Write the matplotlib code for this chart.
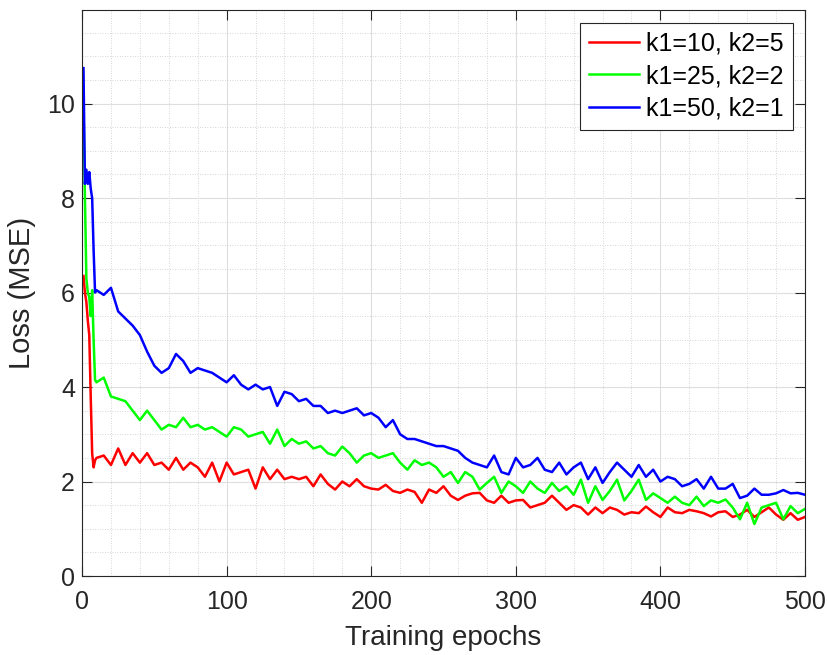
import matplotlib
matplotlib.use("Agg")
import matplotlib.pyplot as plt
from matplotlib.ticker import MultipleLocator

# epochs: first nine individually, then every 5 epochs
epochs = list(range(1, 10)) + list(range(10, 501, 5))

loss_k10 = [6.35, 6.0, 5.8, 5.4, 5.1, 3.8, 2.6, 2.3, 2.45,
            2.5, 2.55, 2.35, 2.7, 2.35, 2.6, 2.4, 2.6, 2.35, 2.4,
            2.25, 2.5, 2.25, 2.4, 2.3, 2.1, 2.4, 2.0, 2.4, 2.15,
            2.2, 2.25, 1.85, 2.3, 2.05, 2.25, 2.05, 2.1, 2.05, 2.1,
            1.9, 2.15, 1.95, 1.83, 2.0, 1.9, 2.05, 1.9, 1.85, 1.83,
            1.93, 1.8, 1.76, 1.83, 1.78, 1.55, 1.83, 1.76, 1.9, 1.7,
            1.61, 1.7, 1.75, 1.76, 1.6, 1.55, 1.7, 1.55, 1.6, 1.61,
            1.45, 1.5, 1.55, 1.7, 1.55, 1.4, 1.5, 1.45, 1.3, 1.45,
            1.33, 1.45, 1.4, 1.3, 1.35, 1.33, 1.47, 1.35, 1.25, 1.45,
            1.35, 1.33, 1.4, 1.37, 1.33, 1.26, 1.35, 1.37, 1.25, 1.3,
            1.4, 1.25, 1.35, 1.45, 1.3, 1.19, 1.33, 1.19, 1.25]

loss_k25 = [10.0, 8.0, 6.3, 6.0, 5.9, 5.5, 6.05, 5.0, 4.15,
            4.1, 4.2, 3.8, 3.75, 3.7, 3.5, 3.3, 3.5, 3.3, 3.1,
            3.2, 3.15, 3.35, 3.15, 3.2, 3.1, 3.15, 3.05, 2.95, 3.15,
            3.1, 2.95, 3.0, 3.05, 2.8, 3.1, 2.75, 2.9, 2.8, 2.85,
            2.7, 2.75, 2.6, 2.55, 2.74, 2.6, 2.4, 2.55, 2.6, 2.5,
            2.55, 2.6, 2.4, 2.25, 2.45, 2.35, 2.4, 2.3, 2.1, 2.2,
            1.97, 2.2, 2.1, 1.83, 1.97, 2.1, 1.76, 2.0, 1.9, 1.76,
            2.0, 1.85, 1.76, 1.97, 1.8, 1.9, 1.72, 2.04, 1.55, 1.9,
            1.61, 1.8, 2.04, 1.6, 1.8, 2.04, 1.61, 1.75, 1.65, 1.55,
            1.68, 1.55, 1.5, 1.68, 1.48, 1.6, 1.55, 1.62, 1.45, 1.2,
            1.55, 1.1, 1.45, 1.5, 1.55, 1.2, 1.48, 1.33, 1.42]

loss_k50 = [10.75, 8.3, 8.6, 8.3, 8.55, 8.2, 8.0, 6.9, 6.0,
            6.05, 5.95, 6.1, 5.6, 5.45, 5.3, 5.1, 4.75, 4.45, 4.3,
            4.4, 4.7, 4.55, 4.3, 4.4, 4.35, 4.3, 4.2, 4.1, 4.25,
            4.05, 3.95, 4.05, 3.95, 4.0, 3.6, 3.9, 3.85, 3.7, 3.75,
            3.6, 3.6, 3.45, 3.5, 3.45, 3.5, 3.55, 3.4, 3.45, 3.35,
            3.15, 3.3, 3.0, 2.9, 2.9, 2.85, 2.8, 2.75, 2.75, 2.7,
            2.65, 2.5, 2.4, 2.35, 2.3, 2.55, 2.2, 2.15, 2.5, 2.3,
            2.35, 2.5, 2.25, 2.2, 2.4, 2.15, 2.3, 2.4, 2.05, 2.3,
            1.97, 2.2, 2.4, 2.25, 2.1, 2.35, 2.1, 2.25, 2.0, 2.1,
            2.05, 1.9, 1.95, 2.05, 1.85, 2.1, 1.85, 1.85, 1.95, 1.65,
            1.7, 1.85, 1.72, 1.72, 1.75, 1.82, 1.75, 1.76, 1.72]

labels = ["k1=10, k2=5", "k1=25, k2=2", "k1=50, k2=1"]
colors = ["#ff0000", "#00ff00", "#0000ff"]

plt.rcParams['font.family'] = ['Liberation Sans', 'DejaVu Sans']

fig = plt.figure(figsize=(8.27, 6.55), dpi=100)
ax = fig.add_axes([0.0992, 0.1206, 0.8742, 0.8641])

for series, lab, col in zip([loss_k10, loss_k25, loss_k50], labels, colors):
    ax.plot(epochs, series, color=col, lw=1.8, label=lab)

ax.set_xlim(0, 500)
ax.set_ylim(0, 11.98)
ax.xaxis.set_major_locator(MultipleLocator(100))
ax.xaxis.set_minor_locator(MultipleLocator(20))
ax.yaxis.set_major_locator(MultipleLocator(2))
ax.yaxis.set_minor_locator(MultipleLocator(0.5))

# matlab-ish grid and box
ax.grid(which='major', color='#dedede', lw=0.8, ls='-')
ax.grid(which='minor', color='#c8c8c8', lw=0.6, ls=(0, (1, 2)))
ax.set_axisbelow(True)
ax.tick_params(which='both', direction='in', top=True, right=True,
               labelsize=18, colors='#262626', width=0.8)
ax.tick_params(which='major', length=7)
ax.tick_params(which='minor', length=0)
ax.tick_params(axis='x', pad=10)
ax.tick_params(axis='y', pad=5)
for sp in ax.spines.values():
    sp.set_color('#262626')
    sp.set_linewidth(0.8)

ax.set_xlabel("Training epochs", fontsize=20, color='#262626', labelpad=8)
ax.set_ylabel("Loss (MSE)", fontsize=21, color='#262626', labelpad=8)

leg = ax.legend(loc='upper right', fontsize=18, fancybox=False, framealpha=1,
                edgecolor='#262626', handlelength=2.0, handletextpad=0.3,
                borderpad=0.35, labelspacing=0.35, borderaxespad=0.5)
leg.get_frame().set_linewidth(0.8)

plt.savefig("out.png", dpi=100)
